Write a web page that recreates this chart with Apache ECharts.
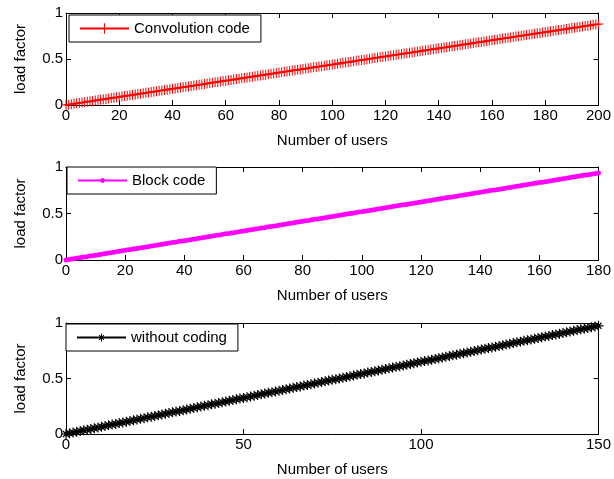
<!DOCTYPE html>
<html>
<head>
<meta charset="utf-8">
<script src="https://cdn.jsdelivr.net/npm/echarts@6/dist/echarts.min.js"></script>
<style>
  html, body { margin: 0; padding: 0; background: #fff; overflow: hidden; }
  #chart { width: 614px; height: 479px; }
</style>
</head>
<body>
<div id="chart"></div>
<script>
// Load factor versus number of users (index = number of users, starting at 0)
const convolutionCode = [
  0, .004, .009, .013, .018, .022, .026, .031, .035, .040,
  .044, .048, .053, .057, .062, .066, .070, .075, .079, .084,
  .088, .092, .097, .101, .106, .110, .114, .119, .123, .128,
  .132, .136, .141, .145, .150, .154, .158, .163, .167, .172,
  .176, .180, .185, .189, .194, .198, .202, .207, .211, .216,
  .220, .224, .229, .233, .238, .242, .246, .251, .255, .260,
  .264, .268, .273, .277, .282, .286, .290, .295, .299, .304,
  .308, .312, .317, .321, .326, .330, .334, .339, .343, .348,
  .352, .356, .361, .365, .370, .374, .378, .383, .387, .392,
  .396, .400, .405, .409, .414, .418, .422, .427, .431, .436,
  .440, .444, .449, .453, .458, .462, .466, .471, .475, .480,
  .484, .488, .493, .497, .502, .506, .510, .515, .519, .524,
  .528, .532, .537, .541, .546, .550, .554, .559, .563, .568,
  .572, .576, .581, .585, .590, .594, .598, .603, .607, .612,
  .616, .620, .625, .629, .634, .638, .642, .647, .651, .656,
  .660, .664, .669, .673, .678, .682, .686, .691, .695, .700,
  .704, .708, .713, .717, .722, .726, .730, .735, .739, .744,
  .748, .752, .757, .761, .766, .770, .774, .779, .783, .788,
  .792, .796, .801, .805, .810, .814, .818, .823, .827, .832,
  .836, .840, .845, .849, .854, .858, .862, .867, .871, .876,
  .880
];

const blockCode = [
  0, .005, .010, .016, .021, .026, .031, .036, .042, .047,
  .052, .057, .062, .068, .073, .078, .083, .088, .094, .099,
  .104, .109, .114, .120, .125, .130, .135, .140, .146, .151,
  .156, .161, .166, .172, .177, .182, .187, .192, .198, .203,
  .208, .213, .218, .224, .229, .234, .239, .244, .250, .255,
  .260, .265, .270, .276, .281, .286, .291, .296, .302, .307,
  .312, .317, .322, .328, .333, .338, .343, .348, .354, .359,
  .364, .369, .374, .380, .385, .390, .395, .400, .406, .411,
  .416, .421, .426, .432, .437, .442, .447, .452, .458, .463,
  .468, .473, .478, .484, .489, .494, .499, .504, .510, .515,
  .520, .525, .530, .536, .541, .546, .551, .556, .562, .567,
  .572, .577, .582, .588, .593, .598, .603, .608, .614, .619,
  .624, .629, .634, .640, .645, .650, .655, .660, .666, .671,
  .676, .681, .686, .692, .697, .702, .707, .712, .718, .723,
  .728, .733, .738, .744, .749, .754, .759, .764, .770, .775,
  .780, .785, .790, .796, .801, .806, .811, .816, .822, .827,
  .832, .837, .842, .848, .853, .858, .863, .868, .874, .879,
  .884, .889, .894, .900, .905, .910, .915, .920, .926, .931,
  .936
];

const withoutCoding = [
  0, .007, .013, .020, .026, .033, .039, .046, .052, .059,
  .065, .072, .078, .085, .091, .098, .104, .111, .117, .124,
  .130, .137, .143, .150, .156, .163, .169, .176, .182, .189,
  .195, .202, .208, .215, .221, .228, .234, .241, .247, .254,
  .260, .267, .273, .280, .286, .293, .299, .306, .312, .319,
  .325, .332, .338, .345, .351, .358, .364, .371, .377, .384,
  .390, .397, .403, .410, .416, .423, .429, .436, .442, .449,
  .455, .462, .468, .475, .481, .488, .494, .501, .507, .514,
  .520, .527, .533, .540, .546, .553, .559, .566, .572, .579,
  .585, .592, .598, .605, .611, .618, .624, .631, .637, .644,
  .650, .657, .663, .670, .676, .683, .689, .696, .702, .709,
  .715, .722, .728, .735, .741, .748, .754, .761, .767, .774,
  .780, .787, .793, .800, .806, .813, .819, .826, .832, .839,
  .845, .852, .858, .865, .871, .878, .884, .891, .897, .904,
  .910, .917, .923, .930, .936, .943, .949, .956, .962, .969,
  .975
];

const seriesNames = ['Convolution code', 'Block code', 'without coding'];
const xMax = [200, 180, 150];
const xInterval = [20, 20, 50];
const yTicks = [0, 0.5, 1];
const xLabel = 'Number of users';
const yLabel = 'load factor';

const FONT = 'Liberation Sans, Arial, Helvetica, sans-serif';
const FS = 15;

// marker shapes: plus and asterisk
const PLUS = 'path://M4.5,0H5.5V4.5H10V5.5H5.5V10H4.5V5.5H0V4.5H4.5Z';
const STAR = 'path://M4.4,0H5.6V4.4H10V5.6H5.6V10H4.4V5.6H0V4.4H4.4Z' +
  'M1.5,2.4L2.4,1.5L8.5,7.6L7.6,8.5Z' +
  'M7.6,1.5L8.5,2.4L2.4,8.5L1.5,7.6Z';

const grids = [
  { left: 66, width: 535, top: 13, height: 92 },
  { left: 66, width: 535, top: 167, height: 93 },
  { left: 66, width: 535, top: 323, height: 111 }
];

const xAxes = [], yAxes = [];
grids.forEach((g, i) => {
  const common = {
    gridIndex: i, type: 'value', min: 0, max: xMax[i], interval: xInterval[i],
    splitLine: { show: false },
    axisLine: { show: true, onZero: false, lineStyle: { color: '#000', width: 1 } },
    axisTick: { show: true, inside: true, length: 5, lineStyle: { color: '#000' } }
  };
  xAxes.push(Object.assign({}, common, {
    position: 'bottom',
    name: xLabel, nameLocation: 'middle', nameGap: 28,
    nameTextStyle: { color: '#000', fontFamily: FONT, fontSize: FS },
    axisLabel: { color: '#000', fontFamily: FONT, fontSize: FS, margin: 3, showMaxLabel: true }
  }));
  xAxes.push(Object.assign({}, common, { position: 'top', axisLabel: { show: false } }));
  const ycommon = {
    gridIndex: i, type: 'value', min: yTicks[0], max: yTicks[2], interval: yTicks[1] - yTicks[0],
    splitLine: { show: false },
    axisLine: { show: true, onZero: false, lineStyle: { color: '#000', width: 1 } },
    axisTick: { show: true, inside: true, length: 5, lineStyle: { color: '#000' } }
  };
  yAxes.push(Object.assign({}, ycommon, {
    position: 'left',
    name: yLabel, nameLocation: 'middle', nameGap: 38, nameRotate: 90,
    nameTextStyle: { color: '#000', fontFamily: FONT, fontSize: FS },
    axisLabel: { color: '#000', fontFamily: FONT, fontSize: FS, margin: 3 }
  }));
  yAxes.push(Object.assign({}, ycommon, { position: 'right', axisLabel: { show: false } }));
});

const toPairs = arr => arr.map((v, i) => [i, v]);

const series = [
  {
    name: seriesNames[0], type: 'line', xAxisIndex: 0, yAxisIndex: 0,
    data: toPairs(convolutionCode),
    symbol: PLUS, symbolSize: 10, showAllSymbol: true,
    lineStyle: { color: '#ff0000', width: 1 },
    itemStyle: { color: '#ff0000' },
    animation: false, clip: false
  },
  {
    name: seriesNames[1], type: 'line', xAxisIndex: 2, yAxisIndex: 2,
    data: toPairs(blockCode),
    symbol: 'circle', symbolSize: 5, showAllSymbol: true,
    lineStyle: { color: '#ff00ff', width: 1 },
    itemStyle: { color: '#ff00ff' },
    animation: false, clip: false
  },
  {
    name: seriesNames[2], type: 'line', xAxisIndex: 4, yAxisIndex: 4,
    data: toPairs(withoutCoding),
    symbol: STAR, symbolSize: 10, showAllSymbol: true,
    lineStyle: { color: '#000000', width: 1 },
    itemStyle: { color: '#000000' },
    animation: false, clip: false
  }
];

// legend boxes: position and icon height (marker drawn at 80% of it)
const legendLeft = [69, 67, 66];
const legendTop = [15, 167, 324];
const legendIconH = [13, 6, 10];

const legends = legendLeft.map((l, i) => ({
  left: l, top: legendTop[i],
  data: [seriesNames[i]],
  orient: 'vertical',
  backgroundColor: '#fff',
  borderColor: '#000', borderWidth: 1, borderRadius: 0,
  padding: [6, 11, 6, 10],
  itemWidth: 49, itemHeight: legendIconH[i], itemGap: 0,
  textStyle: { color: '#000', fontFamily: FONT, fontSize: FS },
  selectedMode: false
}));

const chart = echarts.init(document.getElementById('chart'), null, { renderer: 'canvas' });
chart.setOption({
  backgroundColor: '#fff',
  animation: false,
  grid: grids,
  xAxis: xAxes,
  yAxis: yAxes,
  legend: legends,
  series: series
});
</script>
</body>
</html>
